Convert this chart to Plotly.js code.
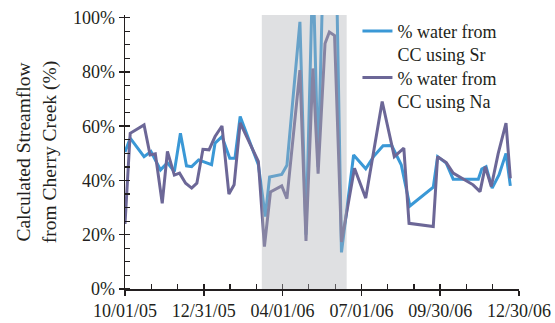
<!DOCTYPE html>
<html>
<head>
<meta charset="utf-8">
<script src="https://cdn.plot.ly/plotly-3.0.1.min.js"></script>
<style>html,body{margin:0;padding:0;background:#fff}#chart{width:555px;height:323px}</style>
</head>
<body>
<div id="chart"></div>
<script>
// ---- Data (percent of streamflow from Cherry Creek) ----
const srDates = ['2005-10-01','2005-10-07','2005-10-23','2005-10-31','2005-11-11','2005-11-19','2005-11-27','2005-12-04','2005-12-11','2005-12-17','2005-12-25','2006-01-03','2006-01-09','2006-01-13','2006-01-21','2006-01-30','2006-02-05','2006-02-11','2006-03-04','2006-03-12','2006-03-17','2006-03-31','2006-04-06','2006-04-21','2006-04-28','2006-05-06','2006-05-12','2006-05-18','2006-06-02','2006-06-08','2006-06-22','2006-07-06','2006-07-15','2006-07-26','2006-08-05','2006-08-16','2006-08-26','2006-09-22','2006-09-27','2006-10-07','2006-10-15','2006-11-13','2006-11-17','2006-11-22','2006-11-29','2006-12-07','2006-12-15','2006-12-20'];
const srValues = [50.5,55.6,48.8,50.7,43.9,46.5,43.3,57.4,45.4,45.1,47.6,46.4,45.8,53.8,56.2,48.2,48.2,63.6,45.8,26.7,41.3,42.2,45.6,98.5,20,120,45,120,120,13.5,49.4,44.3,48.8,52.8,52.9,45.8,30.6,37.5,48.8,46.4,40.5,40.5,44.2,45.1,37.2,42.1,50,38];

const naDates = ['2005-10-01','2005-10-07','2005-10-23','2005-10-30','2005-11-05','2005-11-13','2005-11-19','2005-11-27','2005-12-03','2005-12-10','2005-12-17','2005-12-23','2005-12-30','2006-01-06','2006-01-13','2006-01-21','2006-01-29','2006-02-04','2006-02-11','2006-03-04','2006-03-11','2006-03-18','2006-03-31','2006-04-06','2006-04-21','2006-04-28','2006-05-06','2006-05-12','2006-05-20','2006-05-25','2006-05-31','2006-06-08','2006-06-23','2006-07-06','2006-07-25','2006-08-08','2006-08-19','2006-08-25','2006-09-22','2006-09-27','2006-10-07','2006-10-15','2006-11-07','2006-11-15','2006-11-21','2006-11-28','2006-12-06','2006-12-15','2006-12-20'];
const naValues = [24,57.4,60.5,49.4,49.8,31.6,50.7,42,42.7,39,37.2,39,51.5,51.3,56.2,60.1,35,38.4,61.2,47,15.6,35.8,38,33.3,80.7,17.7,81.3,42.5,90.5,94.7,93.4,17.3,44.5,33.5,69.1,48.8,51.9,24.2,23,48.8,46.6,42.7,38.4,35.9,45.1,37.8,50,61.1,40.8];

const seriesNames = ['% water from<br>CC using Sr', '% water from<br>CC using Na'];
const tickDates = ['2005-10-01','2005-12-31','2006-04-01','2006-07-01','2006-09-30','2006-12-30'];
const tickLabels = ['10/01/05','12/31/05','04/01/06','07/01/06','09/30/06','12/30/06'];
const shadeStart = '2006-03-08';
const shadeEnd = '2006-06-14';

// minor ticks: two between each pair of labelled ticks
const minorTicks = [];
for (let i = 0; i < tickDates.length - 1; i++) {
  const a = Date.parse(tickDates[i] + 'T00:00:00Z');
  const b = Date.parse(tickDates[i + 1] + 'T00:00:00Z');
  for (let k = 1; k <= 2; k++) {
    minorTicks.push(new Date(a + (b - a) * k / 3).toISOString().slice(0, 19).replace('T', ' '));
  }
}

const font = {family: 'Liberation Serif, Times New Roman, serif', size: 18, color: '#231f20'};
const titleFont = {family: 'Liberation Serif, Times New Roman, serif', size: 19.5, color: '#231f20'};

const traces = [
  {x: srDates, y: srValues, name: seriesNames[0], type: 'scatter', mode: 'lines',
   line: {color: '#3a98d6', width: 3}, legend: 'legend'},
  {x: naDates, y: naValues, name: seriesNames[1], type: 'scatter', mode: 'lines',
   line: {color: '#6c6797', width: 3}, legend: 'legend2'},
  {x: [], y: [], xaxis: 'x2', yaxis: 'y2', showlegend: false, hoverinfo: 'skip'}
];

const xRange = [tickDates[0], tickDates[tickDates.length - 1]];
const yRange = [0, 101];

const legendBase = {x: 0.59, xanchor: 'left', yanchor: 'top', valign: 'top',
                    bgcolor: 'rgba(0,0,0,0)', font: font, tracegroupgap: 0};

const layout = {
  width: 555, height: 323,
  margin: {l: 125, r: 36, t: 15, b: 34},
  paper_bgcolor: '#fff', plot_bgcolor: '#fff',
  font: font,
  showlegend: true,
  legend: Object.assign({y: 1.008}, legendBase),
  legend2: Object.assign({y: 0.838}, legendBase),
  xaxis: {type: 'date', range: xRange, tickmode: 'array', tickvals: tickDates, ticktext: tickLabels,
          ticks: 'outside', ticklen: 5, tickwidth: 1.5, tickcolor: '#231f20',
          showline: true, linecolor: '#231f20', linewidth: 1.5, showgrid: false, zeroline: false,
          tickfont: font,
          minor: {tickmode: 'array', tickvals: minorTicks, ticks: 'inside', ticklen: 5, tickwidth: 1.2, tickcolor: '#231f20', showgrid: false}},
  yaxis: {range: yRange, tickmode: 'linear', tick0: 0, dtick: 20, ticksuffix: '%',
          ticks: 'outside', ticklen: 5, tickwidth: 1.5, tickcolor: '#231f20',
          showline: true, linecolor: '#231f20', linewidth: 1.5, showgrid: false, zeroline: false,
          tickfont: font,
          title: {text: 'Calculated Streamflow<br>from Cherry Creek (%)', font: titleFont, standoff: 11},
          minor: {tick0: 0, dtick: 5, ticks: 'inside', ticklen: 5, tickwidth: 1.2, tickcolor: '#231f20', showgrid: false}},
  xaxis2: {type: 'date', range: xRange, overlaying: 'x', anchor: 'y', side: 'bottom',
           tickmode: 'array', tickvals: tickDates, ticks: 'inside', ticklen: 5, tickwidth: 1.5, tickcolor: '#231f20',
           showticklabels: false, showline: false, showgrid: false, zeroline: false},
  yaxis2: {range: yRange, overlaying: 'y', anchor: 'x', side: 'left', tickmode: 'linear', tick0: 0, dtick: 20,
           ticks: 'inside', ticklen: 5, tickwidth: 1.5, tickcolor: '#231f20',
           showticklabels: false, showline: false, showgrid: false, zeroline: false},
  shapes: [{type: 'rect', layer: 'above', xref: 'x', yref: 'y', x0: shadeStart, x1: shadeEnd, y0: 0, y1: 101,
            fillcolor: 'rgba(175,177,182,0.4)', line: {width: 0}}]
};

Plotly.newPlot('chart', traces, layout, {staticPlot: true});
</script>
</body>
</html>
